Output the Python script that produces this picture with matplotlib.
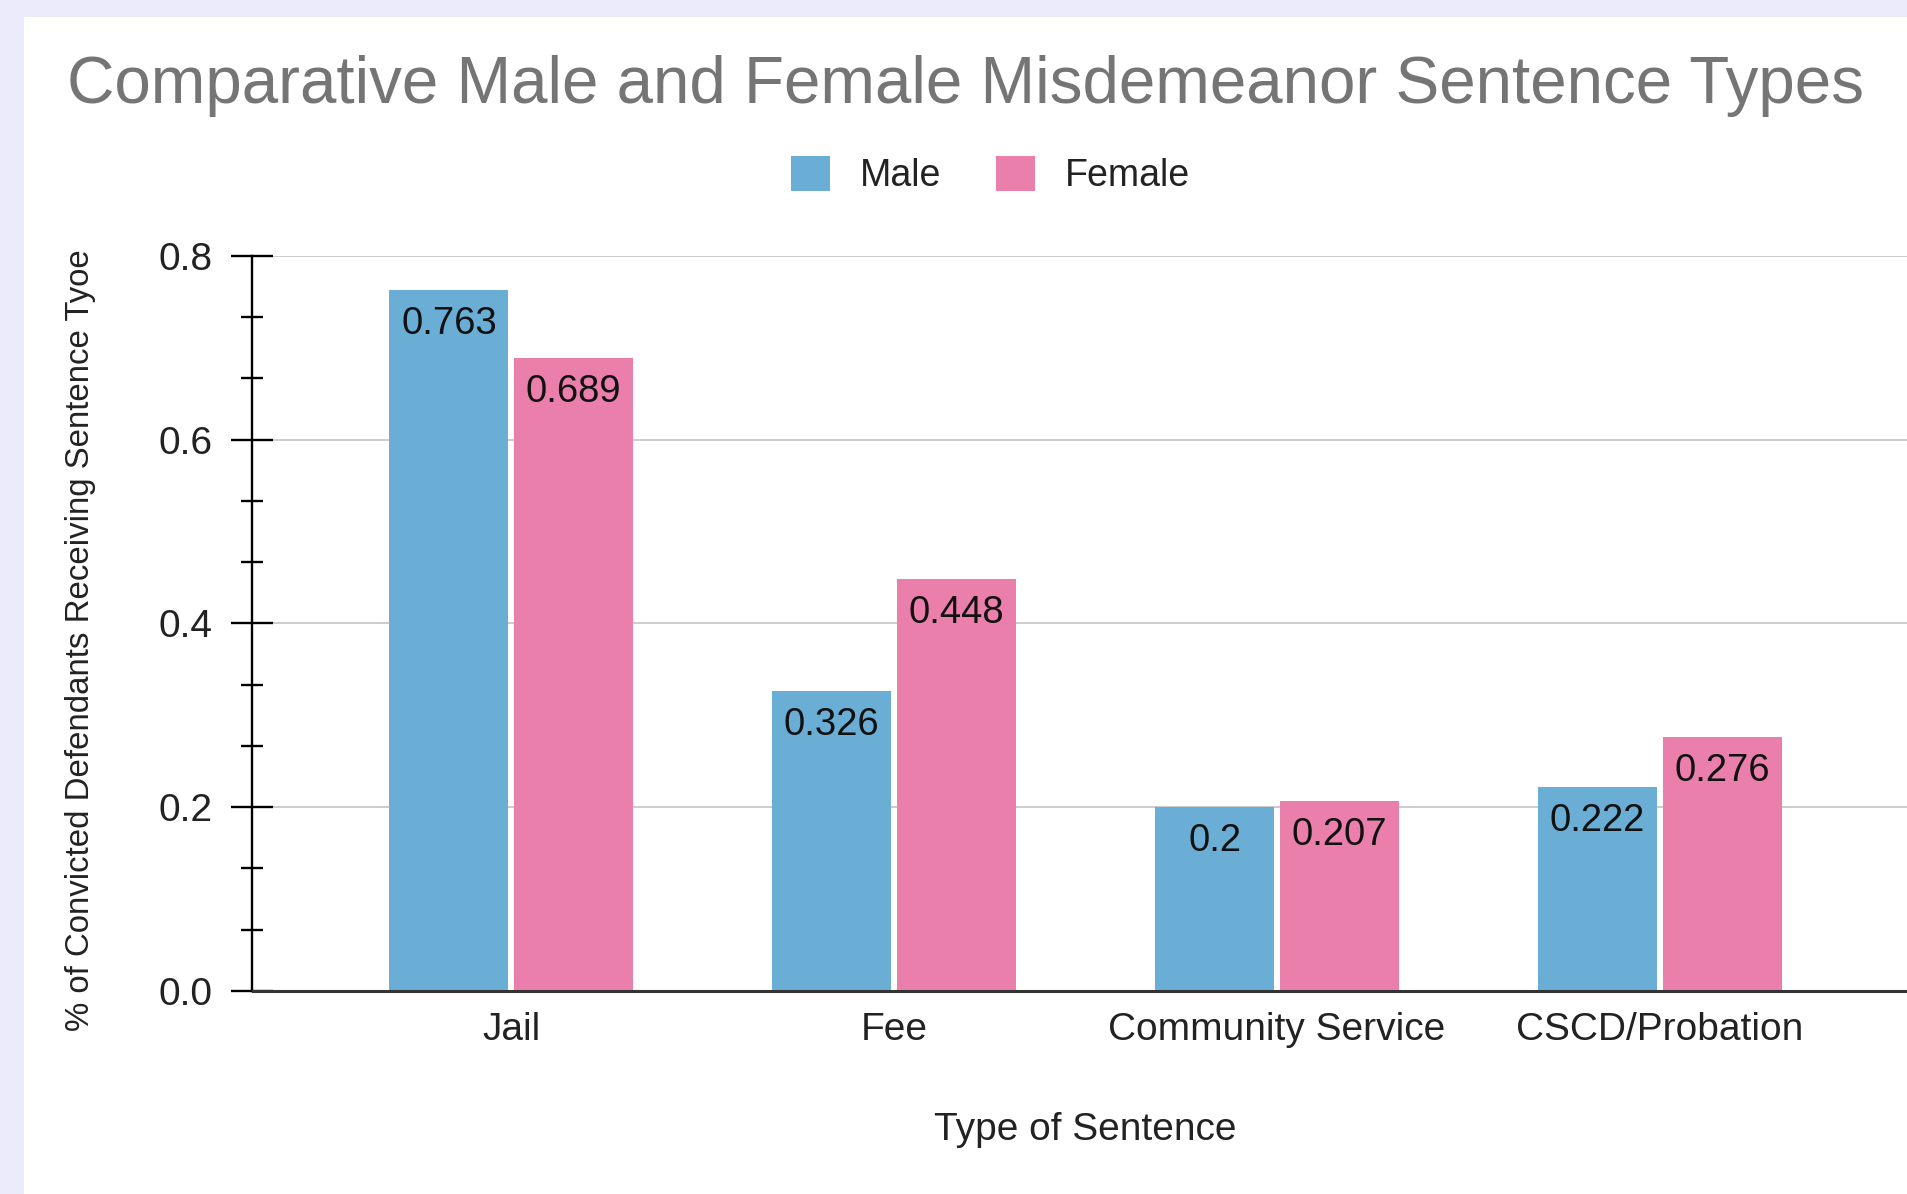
import matplotlib
matplotlib.use("Agg")
import matplotlib.pyplot as plt
import numpy as np
from matplotlib.patches import Rectangle
from matplotlib.ticker import AutoMinorLocator, FixedLocator

categories = ["Jail", "Fee", "Community Service", "CSCD/Probation"]
male = [0.763, 0.326, 0.2, 0.222]
female = [0.689, 0.448, 0.207, 0.276]
series_names = ["Male", "Female"]
y_ticks = [0.0, 0.2, 0.4, 0.6, 0.8]

MALE_C = "#6AAED6"
FEMALE_C = "#EA7FAB"

plt.rcParams['font.family'] = ['Liberation Sans', 'DejaVu Sans']

W, H = 1908, 1194
fig = plt.figure(figsize=(W / 100, H / 100), dpi=100)
fig.patch.set_facecolor("#EBEBFC")
fig.patches.append(Rectangle((24 / W, 0), 1, (H - 17) / H, transform=fig.transFigure,
                             facecolor="white", edgecolor="none", zorder=-10))

ax_left, ax_top, ax_bottom = 252.5, 255.7, 991
ax = fig.add_axes([ax_left / W, 1 - ax_bottom / H, (W - ax_left) / W, (ax_bottom - ax_top) / H])
ax.set_facecolor("none")
ax.set_zorder(2)

x = np.arange(len(categories))
bw = 0.311
off = 0.163
b1 = ax.bar(x - off, male, bw, color=MALE_C, label=series_names[0], zorder=3)
b2 = ax.bar(x + off, female, bw, color=FEMALE_C, label=series_names[1], zorder=3)

for xs, vals in ((x - off, male), (x + off, female)):
    for xi, v in zip(xs, vals):
        ax.annotate(f"{v:g}", xy=(xi, v), xytext=(0, -24.5), textcoords="offset points",
                    ha="center", va="center", fontsize=27.5, color="#111111", zorder=4)

ax.set_xlim(-0.676, 3.648)
ax.set_ylim(0, 0.8)
ax.yaxis.set_major_locator(FixedLocator(y_ticks))
ax.yaxis.set_minor_locator(AutoMinorLocator(3))
ax.set_yticklabels([f"{t:.1f}" for t in y_ticks])
ax.tick_params(axis="y", which="major", direction="inout", length=30.5, width=1.7,
               color="black", labelsize=28, labelcolor="#222222", pad=13.5)
ax.tick_params(axis="y", which="minor", direction="inout", length=16.5, width=1.7, color="black")
ax.set_xticks(x)
ax.set_xticklabels(categories)
ax.tick_params(axis="x", length=0, labelsize=28, labelcolor="#222222", pad=15)

ax.grid(axis="y", which="major", color="#cccccc", linewidth=1.4, zorder=1)
ax.set_axisbelow(True)
for s in ("top", "right"):
    ax.spines[s].set_visible(False)
ax.spines["left"].set_color("black")
ax.spines["left"].set_linewidth(1.7)
ax.spines["bottom"].set_color("#333333")
ax.spines["bottom"].set_linewidth(2.2)
ax.spines["bottom"].set_zorder(5)

fig.text(67 / W, 1 - 103 / H, "Comparative Male and Female Misdemeanor Sentence Types",
         fontsize=47.2, color="#757575", ha="left", va="baseline")

fig.legend(handles=[b1, b2], labels=series_names, loc="center",
           bbox_to_anchor=(990.5 / W, 1 - 175 / H), ncol=2, frameon=False,
           fontsize=27, handlelength=1.04, handleheight=1.04, handletextpad=0.8,
           columnspacing=1.44, borderpad=0, labelcolor="#222222")

fig.text(1085 / W, 1 - 1140 / H, "Type of Sentence", fontsize=28, color="#222222",
         ha="center", va="baseline")
fig.text(81 / W, 1 - 640 / H, "% of Convicted Defendants Receiving Sentence Tyoe",
         fontsize=23.8, color="#222222", ha="center", va="center", rotation=90)

fig.savefig("out.png", dpi=100, facecolor=fig.get_facecolor())
